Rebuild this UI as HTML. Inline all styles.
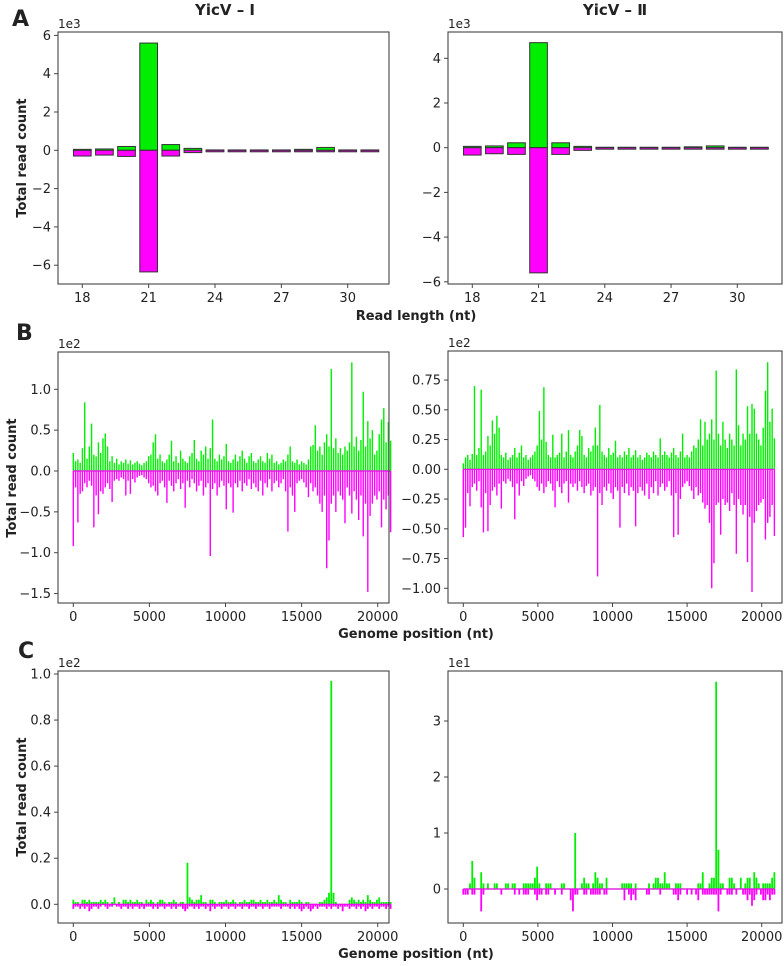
<!DOCTYPE html>
<html><head><meta charset="utf-8"><style>
html,body{margin:0;padding:0;background:#fff;}
svg text{font-family:"DejaVu Sans","Liberation Sans",sans-serif;fill:#222;}
</style></head><body>
<svg id="fig" width="784" height="961" viewBox="0 0 784 961" xmlns="http://www.w3.org/2000/svg">
<text x="12" y="26" font-size="22" font-weight="bold">A</text>
<text x="16" y="340" font-size="22" font-weight="bold">B</text>
<text x="18" y="658" font-size="22" font-weight="bold">C</text>
<text x="225" y="15" font-size="15" font-weight="bold" text-anchor="middle">YicV – I</text>
<text x="615" y="15" font-size="15" font-weight="bold" text-anchor="middle">YicV – Ⅱ</text>
<text x="416" y="320" font-size="13" font-weight="bold" text-anchor="middle">Read length (nt)</text>
<text x="416" y="638" font-size="13" font-weight="bold" text-anchor="middle">Genome position (nt)</text>
<text x="416" y="958" font-size="13" font-weight="bold" text-anchor="middle">Genome position (nt)</text>
<text transform="translate(26,158) rotate(-90)" font-size="13" font-weight="bold" text-anchor="middle">Total read count</text>
<text transform="translate(16,478) rotate(-90)" font-size="13" font-weight="bold" text-anchor="middle">Total read count</text>
<text transform="translate(26,797) rotate(-90)" font-size="13" font-weight="bold" text-anchor="middle">Total read count</text>
</svg>
<script>
const lengthCats=[18,19,20,21,22,23,24,25,26,27,28,29,30,31];
const aLeftSense=[0.05,0.07,0.2,5.6,0.3,0.1,0.02,0.02,0.02,0.02,0.05,0.15,0.02,0.02];
const aLeftAnti=[-0.3,-0.25,-0.32,-6.35,-0.3,-0.12,-0.04,-0.03,-0.03,-0.03,-0.03,-0.03,-0.03,-0.03];
const aRightSense=[0.06,0.08,0.22,4.7,0.22,0.06,0.02,0.02,0.02,0.02,0.04,0.08,0.02,0.02];
const aRightAnti=[-0.33,-0.27,-0.3,-5.6,-0.3,-0.12,-0.05,-0.03,-0.03,-0.03,-0.03,-0.03,-0.03,-0.03];
const lengthTicks=[18,21,24,27,30];
const binStep=150;
const bLeftSense=[0.22,0.12,0.14,0.10,0.28,0.84,0.15,0.30,0.58,0.20,0.18,0.35,0.22,0.40,0.46,0.30,0.12,0.18,0.10,0.15,0.08,0.12,0.10,0.14,0.09,0.13,0.08,0.10,0.12,0.09,0.07,0.10,0.12,0.18,0.20,0.35,0.45,0.15,0.20,0.12,0.10,0.14,0.20,0.37,0.12,0.18,0.10,0.25,0.15,0.12,0.10,0.18,0.22,0.38,0.15,0.12,0.25,0.20,0.30,0.15,0.28,0.63,0.15,0.12,0.20,0.14,0.18,0.33,0.12,0.10,0.14,0.20,0.12,0.18,0.25,0.15,0.10,0.18,0.22,0.12,0.10,0.14,0.18,0.12,0.10,0.22,0.15,0.20,0.10,0.12,0.08,0.10,0.14,0.12,0.20,0.30,0.12,0.10,0.14,0.08,0.12,0.10,0.08,0.14,0.30,0.32,0.56,0.25,0.30,0.20,0.35,0.45,0.30,1.25,0.28,0.40,0.22,0.28,0.20,0.30,0.25,0.35,1.33,0.30,0.42,0.25,0.38,0.97,0.30,0.61,0.40,0.50,0.20,0.25,0.45,0.63,0.77,0.35,0.60,0.37];
const bLeftAnti=[-0.92,-0.20,-0.63,-0.28,-0.25,-0.15,-0.20,-0.12,-0.18,-0.69,-0.30,-0.53,-0.25,-0.28,-0.20,-0.15,-0.22,-0.38,-0.12,-0.10,-0.12,-0.08,-0.10,-0.30,-0.12,-0.28,-0.10,-0.14,-0.08,-0.06,-0.05,-0.08,-0.10,-0.15,-0.20,-0.18,-0.25,-0.30,-0.15,-0.12,-0.20,-0.39,-0.12,-0.18,-0.25,-0.15,-0.10,-0.22,-0.15,-0.45,-0.12,-0.20,-0.10,-0.15,-0.25,-0.18,-0.12,-0.30,-0.20,-0.15,-1.04,-0.22,-0.15,-0.30,-0.20,-0.12,-0.18,-0.47,-0.15,-0.20,-0.51,-0.15,-0.20,-0.12,-0.25,-0.15,-0.18,-0.10,-0.22,-0.15,-0.20,-0.25,-0.12,-0.30,-0.15,-0.20,-0.10,-0.25,-0.15,-0.12,-0.20,-0.15,-0.10,-0.25,-0.74,-0.20,-0.30,-0.50,-0.15,-0.12,-0.10,-0.14,-0.20,-0.32,-0.15,-0.25,-0.20,-0.30,-0.40,-0.50,-0.30,-1.19,-0.85,-0.40,-0.30,-0.50,-0.25,-0.30,-0.35,-0.64,-0.20,-0.30,-0.52,-0.25,-0.35,-0.60,-0.30,-0.80,-0.40,-1.48,-0.55,-0.40,-0.30,-0.35,-0.25,-0.69,-0.35,-0.47,-0.30,-0.75];
const bRightSense=[0.05,0.10,0.12,0.08,0.13,0.70,0.12,0.18,0.67,0.12,0.15,0.28,0.20,0.41,0.30,0.45,0.35,0.12,0.10,0.14,0.08,0.10,0.12,0.18,0.10,0.14,0.20,0.10,0.12,0.08,0.10,0.12,0.15,0.20,0.49,0.25,0.69,0.23,0.12,0.10,0.29,0.10,0.12,0.14,0.30,0.10,0.15,0.33,0.12,0.10,0.15,0.20,0.33,0.28,0.12,0.10,0.18,0.15,0.20,0.35,0.20,0.54,0.15,0.12,0.10,0.18,0.12,0.14,0.24,0.10,0.12,0.10,0.15,0.12,0.18,0.10,0.12,0.16,0.10,0.12,0.08,0.10,0.14,0.12,0.10,0.15,0.12,0.10,0.26,0.12,0.15,0.12,0.10,0.14,0.18,0.12,0.10,0.15,0.30,0.10,0.12,0.10,0.15,0.20,0.18,0.25,0.42,0.20,0.40,0.25,0.30,0.42,0.25,0.83,0.30,0.20,0.40,0.25,0.18,0.30,0.25,0.20,0.84,0.37,0.20,0.30,0.25,0.53,0.30,0.55,0.51,0.30,0.25,0.20,0.35,0.66,0.90,0.40,0.51,0.26];
const bRightAnti=[-0.57,-0.49,-0.20,-0.31,-0.15,-0.12,-0.18,-0.10,-0.32,-0.53,-0.20,-0.52,-0.30,-0.18,-0.15,-0.22,-0.12,-0.33,-0.10,-0.12,-0.08,-0.10,-0.15,-0.42,-0.12,-0.22,-0.10,-0.14,-0.08,-0.06,-0.05,-0.08,-0.10,-0.15,-0.18,-0.12,-0.20,-0.15,-0.10,-0.12,-0.18,-0.32,-0.10,-0.15,-0.20,-0.12,-0.10,-0.28,-0.12,-0.15,-0.12,-0.18,-0.10,-0.15,-0.20,-0.14,-0.12,-0.22,-0.18,-0.15,-0.90,-0.20,-0.30,-0.15,-0.18,-0.12,-0.20,-0.25,-0.15,-0.18,-0.49,-0.15,-0.20,-0.12,-0.22,-0.15,-0.18,-0.48,-0.20,-0.15,-0.18,-0.22,-0.12,-0.25,-0.15,-0.20,-0.10,-0.22,-0.15,-0.12,-0.18,-0.15,-0.10,-0.22,-0.57,-0.20,-0.55,-0.25,-0.15,-0.12,-0.10,-0.14,-0.18,-0.25,-0.15,-0.22,-0.20,-0.28,-0.33,-0.30,-0.45,-1.00,-0.79,-0.30,-0.28,-0.55,-0.25,-0.30,-0.28,-0.35,-0.20,-0.30,-0.71,-0.25,-0.30,-0.38,-0.30,-0.78,-0.40,-1.03,-0.45,-0.35,-0.30,-0.28,-0.25,-0.59,-0.45,-0.40,-0.30,-0.56];
const cLeftSense=[0.02,0.01,0.01,0,0.02,0.02,0.01,0.02,0.01,0.01,0.01,0.01,0.02,0.01,0.02,0.01,0,0.01,0.03,0,0.01,0,0.02,0.02,0.01,0.02,0.01,0.01,0.02,0.01,0.01,0,0.02,0.01,0.02,0.01,0,0.01,0.02,0.02,0.01,0,0.01,0.01,0.02,0.01,0,0.01,0.01,0,0.18,0.03,0.02,0.01,0.02,0.02,0.04,0.01,0.01,0,0.02,0.02,0.01,0,0.01,0.01,0.01,0.02,0.01,0.01,0.02,0.01,0,0.01,0.01,0.02,0.01,0.01,0.02,0.02,0.01,0.01,0.02,0.01,0.01,0.02,0.01,0.01,0.02,0.01,0.04,0.02,0.01,0.01,0,0.02,0.01,0.01,0.01,0.02,0.01,0,0.01,0.01,0,0,0,0,0.01,0.01,0.02,0.03,0.05,0.97,0.05,0.01,0,0,0,0,0,0.02,0.03,0.02,0.01,0.02,0.01,0.02,0.01,0.04,0.02,0.01,0.01,0.02,0.03,0.01,0.01,0.01,0.01,0.01];
const cLeftAnti=[-0.02,-0.01,-0.01,-0.02,-0.01,-0.02,-0.01,-0.03,-0.02,-0.01,-0.01,-0.02,-0.01,0,-0.01,-0.02,-0.01,-0.01,0,-0.01,-0.01,-0.02,-0.01,-0.01,-0.02,-0.01,-0.02,-0.01,-0.01,-0.02,-0.01,-0.02,-0.01,-0.01,-0.01,-0.02,-0.01,-0.02,-0.01,-0.01,-0.02,-0.01,-0.01,-0.02,-0.01,-0.02,-0.01,-0.01,-0.02,-0.03,-0.02,-0.01,-0.01,-0.02,-0.01,-0.02,-0.01,-0.01,-0.02,-0.01,-0.03,-0.01,-0.02,-0.01,-0.01,-0.02,-0.01,-0.01,-0.02,-0.01,-0.01,-0.02,-0.01,-0.01,-0.02,-0.01,-0.01,-0.02,-0.01,-0.01,-0.02,-0.01,-0.01,-0.02,-0.01,-0.01,-0.02,-0.01,-0.01,-0.01,-0.01,-0.02,-0.01,-0.01,-0.01,-0.02,-0.01,-0.02,-0.01,-0.02,-0.03,-0.02,-0.01,-0.02,-0.03,-0.02,-0.01,-0.02,-0.01,-0.01,-0.01,-0.02,-0.01,-0.02,-0.01,-0.01,-0.02,-0.01,-0.03,-0.01,-0.01,-0.02,-0.01,-0.01,-0.02,-0.01,-0.02,-0.01,-0.03,-0.02,-0.01,-0.02,-0.01,-0.01,-0.02,-0.01,-0.01,-0.02,-0.01,-0.02];
const cRightSense=[0,0,0,0.1,0.5,0.2,0,0,0.3,0.1,0,0.1,0,0,0.1,0.1,0,0,0,0.1,0.1,0,0.1,0.1,0,0,0,0.1,0.1,0.1,0.1,0.1,0.2,0.4,0.1,0,0,0.1,0.1,0.1,0,0,0,0,0.1,0.1,0,0,0,0,1.0,0,0,0.1,0.2,0.1,0.1,0,0.1,0.3,0.2,0.1,0.1,0,0.2,0,0,0,0,0,0,0.1,0.1,0.1,0.1,0.1,0,0.1,0,0,0,0,0,0.1,0,0.1,0.2,0.2,0.1,0.1,0.3,0.1,0.1,0,0,0.1,0.1,0.1,0,0,0,0,0,0,0,0.1,0.1,0.3,0,0,0.1,0.2,0.2,3.7,0.7,0.1,0.1,0,0,0.2,0.2,0.1,0,0,0.2,0,0.1,0.2,0.2,0,0.3,0.2,0.1,0,0.1,0.1,0.1,0.1,0.2,0.3];
const cRightAnti=[-0.1,-0.1,-0.1,0,-0.1,-0.1,0,0,-0.4,-0.1,0,0,0,0,0,0,0,-0.1,0,0,0,0,0,-0.1,0,-0.1,0,-0.1,-0.1,-0.1,0,0,-0.1,-0.2,-0.1,-0.1,0,-0.1,-0.1,0,0,-0.1,0,0,-0.1,0,0,0,-0.2,-0.4,-0.1,-0.1,0,0,-0.1,-0.1,0,-0.1,-0.1,-0.1,-0.1,-0.1,0,-0.1,-0.1,0,0,0,0,0,0,0,-0.2,0,-0.1,-0.2,-0.1,-0.2,0,0,0,0,-0.1,-0.1,0,0,0,0,-0.1,0,0,0,0,0,-0.1,-0.1,-0.2,-0.1,0,0,-0.1,0,-0.1,0,-0.1,-0.2,0,-0.1,-0.1,-0.1,-0.1,-0.1,-0.1,-0.1,-0.4,-0.1,0,0,-0.1,-0.1,-0.1,0,-0.1,0,0,-0.1,-0.1,-0.2,-0.1,-0.3,-0.2,-0.1,0,-0.1,-0.2,-0.2,-0.1,-0.2,-0.1,-0.1];
const genomeTicks=[0,5000,10000,15000,20000];
const aLeftYTicks=[-6,-4,-2,0,2,4,6];
const aRightYTicks=[-6,-4,-2,0,2,4];
const bLeftYTicks=[-1.5,-1.0,-0.5,0.0,0.5,1.0];
const bRightYTicks=[-1.00,-0.75,-0.50,-0.25,0.00,0.25,0.50,0.75];
const cLeftYTicks=[0.0,0.2,0.4,0.6,0.8,1.0];
const cRightYTicks=[0,1,2,3];

const NS='http://www.w3.org/2000/svg';
const svg=document.getElementById('fig');
function mk(tag,attrs,parent){const e=document.createElementNS(NS,tag);for(const k in attrs)e.setAttribute(k,attrs[k]);(parent||svg).appendChild(e);return e;}
function lin(d0,d1,r0,r1){return v=>r0+(v-d0)*(r1-r0)/(d1-d0);}

function panel(name,box,xd,yd,xt,yt,xfmt,yfmt,expo){
  const g=mk('g',{});
  
  
  const x=lin(xd[0],xd[1],box.x0,box.x1), y=lin(yd[0],yd[1],box.y0,box.y1);
  const plot=mk('g',{},g);
  
  
  const frame=mk('rect',{x:box.x0,y:box.y1,width:box.x1-box.x0,height:box.y0-box.y1,fill:'none',stroke:'#444','stroke-width':1.1},g);
  
  
  xt.forEach(v=>{const px=x(v);
    mk('line',{x1:px,x2:px,y1:box.y0,y2:box.y0+4,stroke:'#444'},g);
    const t=mk('text',{x:px,y:box.y0+18,'font-size':13,'text-anchor':'middle'},g);t.textContent=xfmt(v);
    
    });
  yt.forEach(v=>{const py=y(v);
    mk('line',{x1:box.x0-4,x2:box.x0,y1:py,y2:py,stroke:'#444'},g);
    const t=mk('text',{x:box.x0-7,y:py+4.5,'font-size':13,'text-anchor':'end'},g);t.textContent=yfmt(v).replace('-','−');
    
    });
  const e=mk('text',{x:box.x0,y:box.y1-4,'font-size':12},g);e.textContent=expo;
  
  
  return {x,y,plot};
}
function panelPx(name,box,xa,ya,xt,yt,xfmt,yfmt,expo){
  const xs=(xa[3]-xa[1])/(xa[2]-xa[0]), ys=(ya[3]-ya[1])/(ya[2]-ya[0]);
  const xd=[xa[0]+(box.x0-xa[1])/xs, xa[0]+(box.x1-xa[1])/xs];
  const yd=[ya[0]+(box.y0-ya[1])/ys, ya[0]+(box.y1-ya[1])/ys];
  return panel(name,box,xd,yd,xt,yt,xfmt,yfmt,expo);
}
function bars(p,cats,vals,color,name){
  cats.forEach((c,i)=>{const v=vals[i];const y0=p.y(0),y1=p.y(v);
    const r=mk('rect',{x:p.x(c-0.4),y:Math.min(y0,y1),width:p.x(c+0.4)-p.x(c-0.4),height:Math.max(Math.abs(y1-y0),1.5),fill:color,stroke:'#333','stroke-width':1},p.plot);
    
    });
}
function vlines(p,vals,color,w,name){
  let d='';vals.forEach((v,i)=>{const px=p.x(i*binStep).toFixed(2);d+='M'+px+' '+p.y(0).toFixed(2)+'V'+p.y(v).toFixed(2);});
  const path=mk('path',{d:d,stroke:color,'stroke-width':w,fill:'none'},p.plot);
  
  
  const base=mk('line',{x1:p.x(0),x2:p.x((vals.length-1)*binStep),y1:p.y(0),y2:p.y(0),stroke:color,'stroke-width':1.2},p.plot);
  
  
}
const G='#00ee00',M='#ff00ff';
const i0=v=>String(v), f1=v=>v.toFixed(1), f2=v=>v.toFixed(2);
let p;
p=panelPx('panel-a-left',{x0:58,x1:389,y0:284,y1:32},[18,82.3,30,347.7],[0,150.3,-6,265.2],lengthTicks,aLeftYTicks,i0,i0,'1e3');
bars(p,lengthCats,aLeftSense,G,'bar-sense');bars(p,lengthCats,aLeftAnti,M,'bar-antisense');
p=panelPx('panel-a-right',{x0:448,x1:782,y0:284,y1:32},[18,472.3,30,737.3],[0,147.7,4,58.3],lengthTicks,aRightYTicks,i0,i0,'1e3');
bars(p,lengthCats,aRightSense,G,'bar-sense');bars(p,lengthCats,aRightAnti,M,'bar-antisense');
p=panelPx('panel-b-left',{x0:58,x1:389,y0:603,y1:352},[0,73.3,20000,377.7],[0,471,1,389.3],genomeTicks,bLeftYTicks,i0,f1,'1e2');
vlines(p,bLeftSense,G,1.4,'sense-coverage');vlines(p,bLeftAnti,M,1.4,'antisense-coverage');
p=panelPx('panel-b-right',{x0:448,x1:782,y0:603,y1:351},[0,463.3,20000,761.7],[0,469.3,-1,588.3],genomeTicks,bRightYTicks,i0,f2,'1e2');
vlines(p,bRightSense,G,1.4,'sense-coverage');vlines(p,bRightAnti,M,1.4,'antisense-coverage');
p=panelPx('panel-c-left',{x0:58,x1:389,y0:923,y1:671},[0,73.3,20000,377.7],[0,904.3,1,674],genomeTicks,cLeftYTicks,i0,f1,'1e2');
vlines(p,cLeftSense,G,1.8,'sense-coverage');vlines(p,cLeftAnti,M,1.8,'antisense-coverage');
p=panelPx('panel-c-right',{x0:448,x1:782,y0:923,y1:671},[0,463.3,20000,761.7],[0,889,3,721],genomeTicks,cRightYTicks,i0,i0,'1e1');
vlines(p,cRightSense,G,1.8,'sense-coverage');vlines(p,cRightAnti,M,1.8,'antisense-coverage');
</script>
</body></html>
